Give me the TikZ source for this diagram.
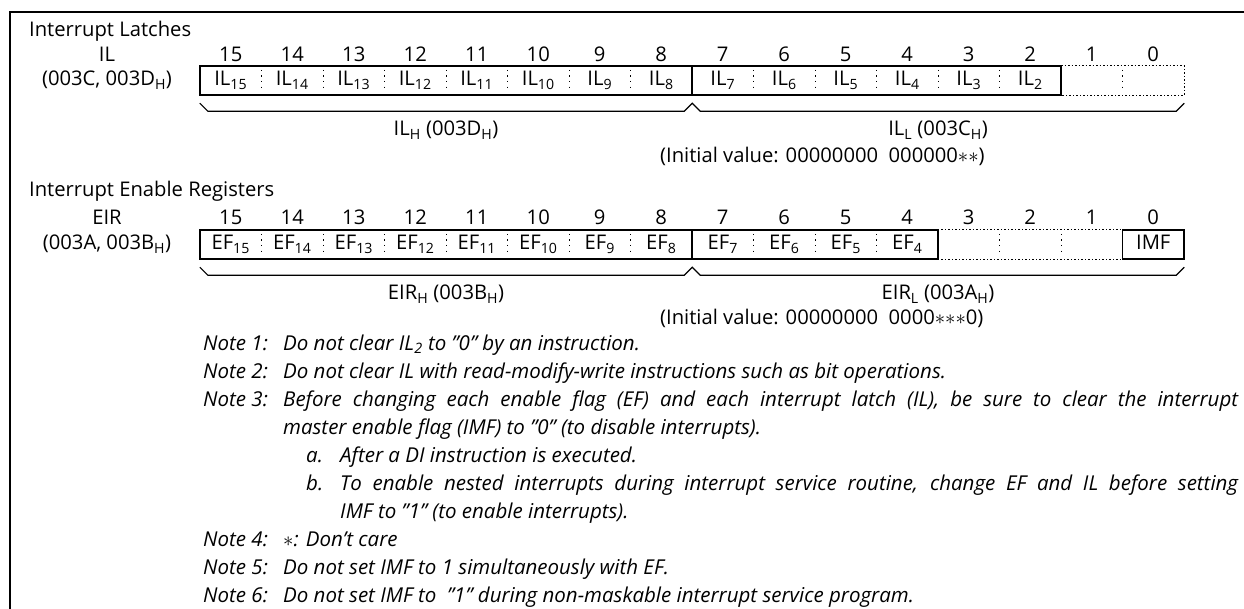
\documentclass[tikz,border=0pt]{standalone}
\usepackage{fontspec}
\setmainfont{Open Sans}
\newcommand\sbs[1]{\textsubscript{#1}}
\begin{document}
\begin{tikzpicture}[x=1pt,y=-1pt,
  lbl/.style={font=\fontsize{20.2}{24}\selectfont, inner sep=0pt, anchor=base},
  ttl/.style={font=\fontsize{20.2}{24}\selectfont, inner sep=0pt, anchor=base west},
  note/.style={font=\fontsize{20.5}{24}\selectfont\itshape, inner sep=0pt, anchor=base west},
  cell/.style={font=\fontsize{20.2}{24}\selectfont, inner sep=0pt, minimum width=61.5pt, minimum height=29pt, text height=13pt, text depth=2pt},
  frame/.style={line width=2.4pt},
  box/.style={line width=1.5pt},
  dotbox/.style={line width=1.3pt, dash pattern=on 1.3pt off 2.2pt},
  sep/.style={line width=1.3pt, dash pattern=on 1.4pt off 4.2pt, shorten <=4pt, shorten >=4pt},
  brace/.style={line width=1.2pt}]
\useasboundingbox (0,0) rectangle (1244,609);
\draw[frame] (10,640) -- (10,12) -- (1260,12);

% ---------- Interrupt latches ----------
\node[ttl] (ttlIL) at (29,37) {Interrupt Latches};
\node[lbl] (nameIL) at (107,62) {IL};
\node[lbl] (addrIL) at (107,86) {(003C, 003D\sbs{H})};
\foreach \b in {15,...,0}{
  \pgfmathsetmacro\cx{200+61.5*(15-\b)+30.75}
  \node[lbl] (na\b) at (\cx,62) {\b};
  \node[lbl] (nb\b) at (\cx,225) {\b};
}
\foreach \b in {15,...,2}{
  \pgfmathsetmacro\cx{200+61.5*(15-\b)+30.75}
  \node[cell] (il\b) at (\cx,80.5) {IL\sbs{\b}};
}
\node[cell] (il1) at (1091.75,80.5) {};
\node[cell] (il0) at (1153.25,80.5) {};
\draw[box] (il15.north west) rectangle (il2.south east);
\foreach \b in {15,14,13,12,11,10,9,7,6,5,4,3}
  \draw[sep] (il\b.north east) -- (il\b.south east);
\draw[box] (il8.north east) -- (il8.south east);
\draw[dotbox] (il2.north east) -- (il0.north east) -- (il0.south east) -- (il2.south east);
\draw[sep] (il1.north east) -- (il1.south east);
\draw[brace] ([yshift=-8pt]il15.south west) -- ([xshift=8pt,yshift=-16pt]il15.south west)
  -- ([xshift=-8pt,yshift=-16pt]il8.south east) -- ([yshift=-8pt]il8.south east)
  -- ([xshift=8pt,yshift=-16pt]il8.south east) -- ([xshift=-8pt,yshift=-16pt]il0.south east)
  -- ([yshift=-8pt]il0.south east);
\node[lbl] (ilH) at (446,136) {IL\sbs{H} (003D\sbs{H})};
\node[lbl] (ilL) at (938,136) {IL\sbs{L} (003C\sbs{H})};
\node[ttl] (initIL) at (660,163) {(Initial value: 00000000\ \ 000000${\ast}{\ast}$)};

% ---------- Interrupt enable registers ----------
\node[ttl] (ttlEIR) at (29,197) {Interrupt Enable Registers};
\node[lbl] (nameEIR) at (107,225) {EIR};
\node[lbl] (addrEIR) at (107,250) {(003A, 003B\sbs{H})};
\foreach \b in {15,...,4}{
  \pgfmathsetmacro\cx{200+61.5*(15-\b)+30.75}
  \node[cell] (ef\b) at (\cx,244.5) {EF\sbs{\b}};
}
\node[cell] (ef3) at (968.75,244.5) {};
\node[cell] (ef2) at (1030.25,244.5) {};
\node[cell] (ef1) at (1091.75,244.5) {};
\node[cell] (ef0) at (1153.25,244.5) {IMF};
\draw[box] (ef15.north west) rectangle (ef4.south east);
\foreach \b in {15,14,13,12,11,10,9,7,6,5}
  \draw[sep] (ef\b.north east) -- (ef\b.south east);
\draw[box] (ef8.north east) -- (ef8.south east);
\draw[dotbox] (ef3.north west) -- (ef1.north east);
\draw[dotbox] (ef3.south west) -- (ef1.south east);
\draw[sep] (ef3.north east) -- (ef3.south east);
\draw[sep] (ef2.north east) -- (ef2.south east);
\draw[box] (ef0.north west) rectangle (ef0.south east);
\draw[brace] ([yshift=-8pt]ef15.south west) -- ([xshift=8pt,yshift=-16pt]ef15.south west)
  -- ([xshift=-8pt,yshift=-16pt]ef8.south east) -- ([yshift=-8pt]ef8.south east)
  -- ([xshift=8pt,yshift=-16pt]ef8.south east) -- ([xshift=-8pt,yshift=-16pt]ef0.south east)
  -- ([yshift=-8pt]ef0.south east);
\node[lbl] (eirH) at (446,300) {EIR\sbs{H} (003B\sbs{H})};
\node[lbl] (eirL) at (938,300) {EIR\sbs{L} (003A\sbs{H})};
\node[ttl] (initEIR) at (660,325) {(Initial value: 00000000\ \ 0000${\ast}{\ast}{\ast}$0)};

% ---------- Notes ----------
\node[note] (n1) at (203,350) {Note 1:};
\node[note] (n1t) at (283,350) {Do not clear IL\sbs{2} to ”0” by an instruction.};
\node[note] (n2) at (203,378.1) {Note 2:};
\node[note] (n2t) at (283,378.1) {Do not clear IL with read-modify-write instructions such as bit operations.};
\node[note] (n3) at (203,406.2) {Note 3:};
\node[note] (n3t) at (283,406.2) {\makebox[955pt][s]{Before changing each enable flag (EF) and each interrupt latch (IL), be sure to clear the interrupt}};
\node[note] (n3u) at (283,434.3) {master enable flag (IMF) to ”0” (to disable interrupts).};
\node[note] (na) at (306,462.4) {a.};
\node[note] (nat) at (340,462.4) {After a DI instruction is executed.};
\node[note] (nbb) at (306,490.5) {b.};
\node[note] (nbt) at (340,490.5) {\makebox[898pt][s]{To enable nested interrupts during interrupt service routine, change EF and IL before setting}};
\node[note] (nbu) at (340,518.6) {IMF to ”1” (to enable interrupts).};
\node[note] (n4) at (203,546.7) {Note 4:};
\node[note] (n4t) at (283,546.7) {$\ast$: Don’t care};
\node[note] (n5) at (203,574.8) {Note 5:};
\node[note] (n5t) at (283,574.8) {Do not set IMF to 1 simultaneously with EF.};
\node[note] (n6) at (203,602.6) {Note 6:};
\node[note] (n6t) at (283,602.6) {Do not set IMF to\ \ ”1” during non-maskable interrupt service program.};
\end{tikzpicture}
\end{document}
